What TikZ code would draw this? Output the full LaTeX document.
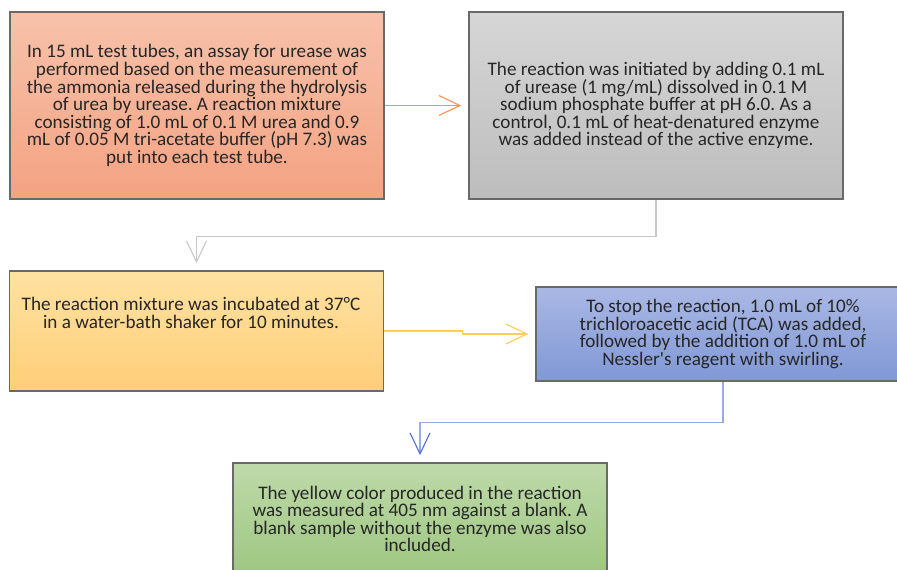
\documentclass[tikz,border=0pt]{standalone}
\usepackage{fontspec}
\setmainfont{Carlito}[Ligatures=TeXOff]
\usepackage{tikz}
\usetikzlibrary{arrows.meta,positioning}
\definecolor{orangetop}{RGB}{247,194,170}
\definecolor{orangebot}{RGB}{244,162,130}
\definecolor{graytop}{RGB}{214,214,214}
\definecolor{graybot}{RGB}{189,189,189}
\definecolor{yellowtop}{RGB}{255,226,162}
\definecolor{yellowbot}{RGB}{255,206,120}
\definecolor{bluetop}{RGB}{170,184,228}
\definecolor{bluebot}{RGB}{128,152,214}
\definecolor{greentop}{RGB}{190,218,170}
\definecolor{greenbot}{RGB}{158,198,128}
\definecolor{orangeln}{RGB}{244,150,92}
\definecolor{grayln}{RGB}{200,200,200}
\definecolor{yellowln}{RGB}{255,208,80}
\definecolor{blueln}{RGB}{150,172,228}
\definecolor{bluetip}{RGB}{80,115,205}
\definecolor{boxtxt}{RGB}{38,38,38}
\frenchspacing
\tikzset{stepbox/.style={draw={rgb,255:red,105;green,105;blue,105}, line width=0.9pt, rectangle, inner sep=0pt, minimum width=374*0.02cm, align=center, text=boxtxt, font=\fontsize{10.9}{10}\selectfont}}
\tikzset{boxtext/.style={align=center, text=boxtxt, inner sep=0pt, font=\fontsize{10.9}{10}\selectfont}}
\tikzset{flow/.style={line width=0.65pt, shorten >=7*0.02cm, -{Straight Barb[length=4.2mm, width=4mm]}}}

\begin{document}
\begin{tikzpicture}[x=0.02cm, y=-0.02cm]
                        \useasboundingbox (0,0) rectangle (897,570);
                        \clip (0,0) rectangle (897,570);
                        \node[stepbox, minimum height=187*0.02cm, top color=orangetop, bottom color=orangebot] (mix) at (197, 105.5)
                        {In 15 mL test tubes, an assay for urease was\\performed based on the measurement of\\the ammonia released during the hydrolysis\\of urea by urease. A reaction mixture\\consisting of 1.0 mL of 0.1 M urea and 0.9\\mL of 0.05 M tri-acetate buffer (pH 7.3) was\\put into each test tube.};
                        \node[stepbox, minimum height=187*0.02cm, top color=graytop, bottom color=graybot] (init) at (656, 105.5)
                        {The reaction was initiated by adding 0.1 mL\\of urease (1 mg/mL) dissolved in 0.1 M\\sodium phosphate buffer at pH 6.0. As a\\control, 0.1 mL of heat-denatured enzyme\\was added instead of the active enzyme.};
                        \node[stepbox, minimum height=120*0.02cm, top color=yellowtop, bottom color=yellowbot] (incub) at (196.5, 331) {};
                        \node[boxtext] (incubtxt) at (191, 313)
                        {The reaction mixture was incubated at 37°C\\in a water-bath shaker for 10 minutes.};
                        \node[stepbox, minimum height=94*0.02cm, top color=bluetop, bottom color=bluebot] (stop) at (723, 334)
                        {To stop the reaction, 1.0 mL of 10\%\\trichloroacetic acid (TCA) was added,\\followed by the addition of 1.0 mL of\\Nessler's reagent with swirling.};
                        \node[stepbox, minimum height=112*0.02cm, top color=greentop, bottom color=greenbot] (meas) at (420, 519)
                        {The yellow color produced in the reaction\\was measured at 405 nm against a blank. A\\blank sample without the enzyme was also\\included.};
                        \draw[flow, orangeln]
                        (mix.east) -- (init.west);
                        \draw[flow, grayln]
                        (init.south) -- ++(0,37) -| (incub.north);
                        \draw[flow, yellowln]
                        (incub.east) -- ++(78,0) |- (stop.west);
                        \draw[flow, blueln, -{Straight Barb[length=4.2mm, width=4mm, color=bluetip]}]
                        (stop.south) -- ++(0,41) -| (meas.north);
                    \end{tikzpicture}
\end{document}
